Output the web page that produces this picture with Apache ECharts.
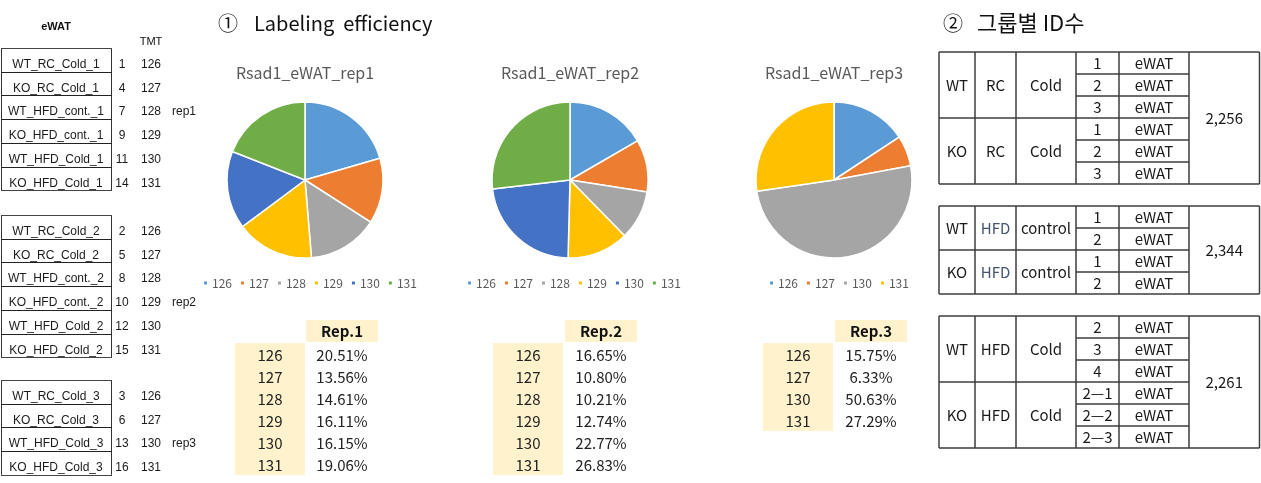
<!DOCTYPE html>
<html>
<head>
<meta charset="utf-8">
<script src="https://cdn.jsdelivr.net/npm/echarts@6/dist/echarts.min.js"></script>
<style>
html,body{margin:0;padding:0;background:#fff;}
#chart{width:1261px;height:483px;}
</style>
</head>
<body>
<div id="chart"></div>
<script>
// ---------- DATA ----------
const tmtLabels = ['126', '127', '128', '129', '130', '131'];
const rep1Values = [20.51, 13.56, 14.61, 16.11, 16.15, 19.06];
const rep2Values = [16.65, 10.80, 10.21, 12.74, 22.77, 26.83];
const rep3Labels = ['126', '127', '130', '131'];
const rep3Values = [15.75, 6.33, 50.63, 27.29];
const pieTitles = ['Rsad1_eWAT_rep1', 'Rsad1_eWAT_rep2', 'Rsad1_eWAT_rep3'];
const repHeaders = ['Rep.1', 'Rep.2', 'Rep.3'];

const samples1 = ['WT_RC_Cold_1', 'KO_RC_Cold_1', 'WT_HFD_cont._1', 'KO_HFD_cont._1', 'WT_HFD_Cold_1', 'KO_HFD_Cold_1'];
const sampleNo1 = ['1', '4', '7', '9', '11', '14'];
const sampleTmt1 = ['126', '127', '128', '129', '130', '131'];
const samples2 = ['WT_RC_Cold_2', 'KO_RC_Cold_2', 'WT_HFD_cont._2', 'KO_HFD_cont._2', 'WT_HFD_Cold_2', 'KO_HFD_Cold_2'];
const sampleNo2 = ['2', '5', '8', '10', '12', '15'];
const sampleTmt2 = ['126', '127', '128', '129', '130', '131'];
const samples3 = ['WT_RC_Cold_3', 'KO_RC_Cold_3', 'WT_HFD_Cold_3', 'KO_HFD_Cold_3'];
const sampleNo3 = ['3', '6', '13', '16'];
const sampleTmt3 = ['126', '127', '130', '131'];
const repNotes = ['rep1', 'rep2', 'rep3'];
const repNoteRows = [2, 3, 2];

const idGenotypes = [['WT', 'KO'], ['WT', 'KO'], ['WT', 'KO']];
const idDiets = [['RC', 'RC'], ['HFD', 'HFD'], ['HFD', 'HFD']];
const idConds = [['Cold', 'Cold'], ['control', 'control'], ['Cold', 'Cold']];
const idReps = [[['1', '2', '3'], ['1', '2', '3']], [['1', '2'], ['1', '2']], [['2', '3', '4'], ['2—1', '2—2', '2—3']]];
const idTissue = 'eWAT';
const idTotals = ['2,256', '2,344', '2,261'];

// ---------- STYLE / LAYOUT ----------
const FONT = '"Noto Sans CJK KR","Noto Sans",sans-serif';
const FONT_L = '"Liberation Sans",Arial,sans-serif';
const palette = ['#5B9BD5', '#ED7D31', '#A5A5A5', '#FFC000', '#4472C4', '#70AD47'];
const g = [];
function txt(x, y, s, o) {
  o = o || {};
  const size = o.size || 15, fam = o.fam || FONT, w = o.weight || 'normal';
  const al = o.align || 'center';
  g.push({type: 'text', silent: true, z: 10, style: {
    text: s, x: x, y: y, font: w + ' ' + size + 'px ' + fam,
    align: al, textAlign: al, verticalAlign: 'middle', textVerticalAlign: 'middle',
    fill: o.color || '#1a1a1a'
  }});
}
function line(x1, y1, x2, y2, c, lw) {
  g.push({type: 'line', silent: true, z: 5, shape: {x1, y1, x2, y2}, style: {stroke: c || '#333', lineWidth: lw || 1}});
}
function rect(x, y, w, h, fill) {
  g.push({type: 'rect', silent: true, z: 1, shape: {x, y, width: w, height: h}, style: {fill: fill}});
}

// headings
txt(218, 23, '①', {size: 20, align: 'left', color: '#111'});
txt(254, 23, 'Labeling  efficiency', {size: 20, align: 'left', color: '#111'});
txt(943, 23, '②', {size: 20, align: 'left', color: '#111'});
txt(977, 23, '그룹별 ID수', {size: 22, align: 'left', color: '#111'});

// ---- left sample table ----
txt(56, 27, 'eWAT', {size: 11, fam: FONT_L, weight: 'bold', color: '#111'});
txt(151, 42, 'TMT', {size: 11, fam: FONT_L, color: '#111'});
const sampleSets = [[samples1, sampleNo1, sampleTmt1], [samples2, sampleNo2, sampleTmt2], [samples3, sampleNo3, sampleTmt3]];
const sampleTops = [48, 215, 380];
const rowH = 23.7;
sampleSets.forEach((set, gi) => {
  const top = sampleTops[gi];
  const n = set[0].length;
  const bottom = top + n * rowH;
  line(1.5, top, 1.5, bottom, '#333', 1);
  line(111.5, top, 111.5, bottom, '#333', 1);
  for (let i = 0; i <= n; i++) {
    const y = Math.round(top + i * rowH) + 0.5;
    line(1, y, 112, y, i === 0 || i === n ? '#444' : '#222', 1);
  }
  for (let i = 0; i < n; i++) {
    const cy = top + (i + 1) * rowH - 7;
    txt(56, cy, set[0][i], {size: 12, fam: FONT_L, color: '#1a1a1a'});
    txt(122, cy, set[1][i], {size: 12, fam: FONT_L, color: '#1a1a1a'});
    txt(151, cy, set[2][i], {size: 12, fam: FONT_L, color: '#1a1a1a'});
    if (i === repNoteRows[gi]) txt(172, cy, repNotes[gi], {size: 12, fam: FONT_L, align: 'left', color: '#1a1a1a'});
  }
});

// ---- rep tables ----
const repTables = [[tmtLabels, rep1Values], [tmtLabels, rep2Values], [rep3Labels, rep3Values]];
const repLabelX = [235, 493, 763];
const repValX = [306, 565, 835];
repTables.forEach((t, k) => {
  const lx = repLabelX[k], vx = repValX[k];
  rect(vx, 320, 72, 22, '#FFF2CC');
  rect(lx, 343, 70, t[0].length * 22, '#FFF2CC');
  txt(vx + 36, 331, repHeaders[k], {size: 15, weight: 'bold', color: '#111'});
  t[0].forEach((lab, i) => {
    const cy = 355 + i * 22;
    txt(lx + 35, cy, lab, {size: 15, color: '#222'});
    txt(vx + 36, cy, t[1][i].toFixed(2) + '%', {size: 15, color: '#222'});
  });
});

// ---- right ID tables ----
const colX = [939, 975, 1016, 1076, 1119, 1189, 1259.5];
const idTops = [52, 206, 316];
const idRowH = 22;
idTotals.forEach((tot, k) => {
  const top = idTops[k];
  const reps = idReps[k];
  const nTotal = reps[0].length + reps[1].length;
  const bottom = top + nTotal * idRowH;
  const c = '#3c3c3c';
  colX.forEach(x => line(x, top, x, bottom, c, 1.5));
  line(colX[0], top, colX[6], top, c, 1.5);
  line(colX[0], bottom, colX[6], bottom, c, 1.5);
  let r = 0;
  [0, 1].forEach(sub => {
    const n = reps[sub].length;
    const subTop = top + r * idRowH;
    const midY = subTop + n * idRowH / 2;
    const dietColor = k === 1 ? '#44546A' : '#1a1a1a';
    txt((colX[0] + colX[1]) / 2, midY, idGenotypes[k][sub], {size: 15});
    txt((colX[1] + colX[2]) / 2, midY, idDiets[k][sub], {size: 15, color: dietColor});
    txt((colX[2] + colX[3]) / 2, midY, idConds[k][sub], {size: 15});
    for (let i = 0; i < n; i++) {
      const y0 = subTop + i * idRowH;
      if (i > 0) line(colX[3], y0, colX[5], y0, c, 1.5);
      txt((colX[3] + colX[4]) / 2, y0 + idRowH / 2, reps[sub][i], {size: 15});
      txt((colX[4] + colX[5]) / 2, y0 + idRowH / 2, idTissue, {size: 15});
    }
    r += n;
    if (sub === 0) line(colX[0], top + r * idRowH, colX[5], top + r * idRowH, c, 1.5);
  });
  txt((colX[5] + colX[6]) / 2, (top + bottom) / 2, tot, {size: 15});
});

// pie titles
const pieCX = [305, 570, 834];
pieTitles.forEach((t, k) => txt(pieCX[k], 73, t, {size: 16, color: '#595959'}));

// ---------- SERIES ----------
const pieData = repTables.map((t, k) => t[0].map((lab, i) => ({
  name: lab + '_r' + (k + 1), value: t[1][i], itemStyle: {color: palette[i]}
})));
const legendLeft = [202, 466, 768];

const option = {
  animation: false,
  backgroundColor: '#ffffff',
  legend: pieData.map((d, k) => ({
    data: d.map(x => x.name),
    left: legendLeft[k], top: 277, padding: 0,
    icon: 'rect', itemWidth: 5, itemHeight: 5, itemGap: 7,
    selectedMode: false,
    formatter: n => n.replace(/_r\d$/, ''),
    textStyle: {fontSize: 12, color: '#595959', fontFamily: FONT, padding: [0, 0, 0, -1]}
  })),
  series: pieData.map((d, k) => ({
    type: 'pie', center: [pieCX[k], 180], radius: 78,
    startAngle: 90, clockwise: true,
    label: {show: false}, labelLine: {show: false},
    emphasis: {disabled: true},
    itemStyle: {borderColor: '#ffffff', borderWidth: 1.5},
    data: d
  })),
  graphic: {elements: g}
};
const chart = echarts.init(document.getElementById('chart'), null, {renderer: 'canvas'});
chart.setOption(option);
</script>
</body>
</html>
